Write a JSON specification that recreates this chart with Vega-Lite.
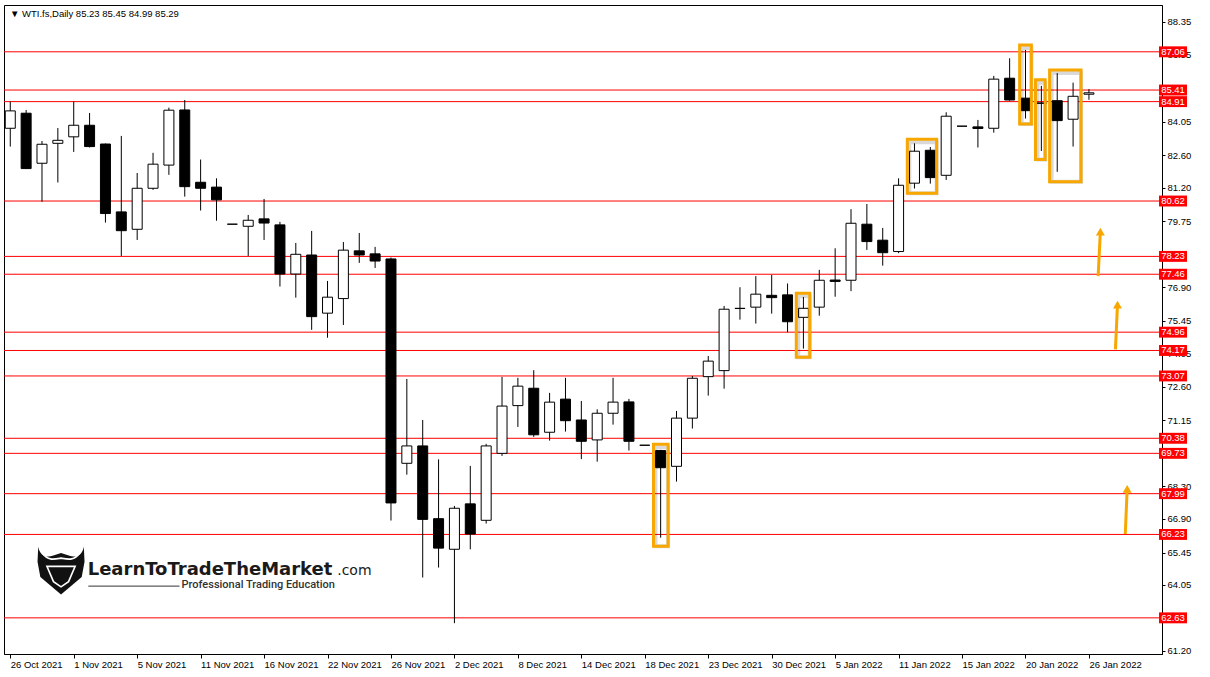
{
  "$schema": "https://vega.github.io/schema/vega-lite/v6.json",
  "width": 1158,
  "height": 649,
  "autosize": {"type": "none"},
  "padding": {"left": 4, "top": 5, "right": 48, "bottom": 23},
  "background": "white",
  "config": {"view": {"stroke": "black", "strokeWidth": 1}},
  "title": {"text": "▼ WTI.fs,Daily  85.23 85.45 84.99 85.29", "anchor": "start", "frame": "group", "offset": -13, "dx": 6, "font": "Liberation Sans", "fontSize": 9.5, "fontWeight": "normal", "color": "black"},
  "datasets": {
    "candles": [
      {"i": 0, "date": "2021-10-26", "open": 83.76, "high": 84.91, "low": 82.97, "close": 84.51},
      {"i": 1, "date": "2021-10-27", "open": 84.41, "high": 84.55, "low": 82.0, "close": 82.02},
      {"i": 2, "date": "2021-10-28", "open": 82.25, "high": 83.21, "low": 80.59, "close": 83.07},
      {"i": 3, "date": "2021-10-29", "open": 83.11, "high": 83.77, "low": 81.42, "close": 83.24},
      {"i": 4, "date": "2021-11-01", "open": 83.39, "high": 84.91, "low": 82.74, "close": 83.89},
      {"i": 5, "date": "2021-11-02", "open": 83.89, "high": 84.42, "low": 82.93, "close": 82.97},
      {"i": 6, "date": "2021-11-03", "open": 83.08, "high": 83.1, "low": 79.69, "close": 80.08},
      {"i": 7, "date": "2021-11-04", "open": 80.15, "high": 83.43, "low": 78.25, "close": 79.34},
      {"i": 8, "date": "2021-11-05", "open": 79.4, "high": 81.83, "low": 78.94, "close": 81.17},
      {"i": 9, "date": "2021-11-08", "open": 81.17, "high": 82.7, "low": 81.1, "close": 82.21},
      {"i": 10, "date": "2021-11-09", "open": 82.17, "high": 84.65, "low": 81.75, "close": 84.54},
      {"i": 11, "date": "2021-11-10", "open": 84.55, "high": 84.98, "low": 80.81, "close": 81.24},
      {"i": 12, "date": "2021-11-11", "open": 81.43, "high": 82.41, "low": 80.21, "close": 81.17},
      {"i": 13, "date": "2021-11-12", "open": 81.22, "high": 81.6, "low": 79.77, "close": 80.67},
      {"i": 14, "date": "2021-11-13", "open": 79.62, "high": 79.62, "low": 79.62, "close": 79.62},
      {"i": 15, "date": "2021-11-15", "open": 79.53, "high": 80.02, "low": 78.25, "close": 79.79},
      {"i": 16, "date": "2021-11-16", "open": 79.85, "high": 80.71, "low": 78.94, "close": 79.67},
      {"i": 17, "date": "2021-11-17", "open": 79.59, "high": 79.72, "low": 76.93, "close": 77.47},
      {"i": 18, "date": "2021-11-18", "open": 77.47, "high": 78.81, "low": 76.45, "close": 78.32},
      {"i": 19, "date": "2021-11-19", "open": 78.29, "high": 79.33, "low": 75.06, "close": 75.63},
      {"i": 20, "date": "2021-11-22", "open": 75.78, "high": 77.17, "low": 74.72, "close": 76.47},
      {"i": 21, "date": "2021-11-23", "open": 76.41, "high": 78.85, "low": 75.27, "close": 78.5},
      {"i": 22, "date": "2021-11-24", "open": 78.47, "high": 79.24, "low": 77.95, "close": 78.29},
      {"i": 23, "date": "2021-11-25", "open": 78.34, "high": 78.64, "low": 77.73, "close": 78.03},
      {"i": 24, "date": "2021-11-26", "open": 78.12, "high": 78.18, "low": 66.83, "close": 67.59},
      {"i": 25, "date": "2021-11-29", "open": 69.3, "high": 72.94, "low": 68.81, "close": 70.05},
      {"i": 26, "date": "2021-11-30", "open": 70.05, "high": 71.17, "low": 64.37, "close": 66.88},
      {"i": 27, "date": "2021-12-01", "open": 66.91, "high": 69.47, "low": 64.8, "close": 65.64},
      {"i": 28, "date": "2021-12-02", "open": 65.59, "high": 67.46, "low": 62.4, "close": 67.36},
      {"i": 29, "date": "2021-12-03", "open": 67.55, "high": 69.19, "low": 65.59, "close": 66.25},
      {"i": 30, "date": "2021-12-06", "open": 66.84, "high": 70.14, "low": 66.7, "close": 70.05},
      {"i": 31, "date": "2021-12-07", "open": 69.73, "high": 73.03, "low": 69.62, "close": 71.77},
      {"i": 32, "date": "2021-12-08", "open": 71.79, "high": 72.99, "low": 70.87, "close": 72.63},
      {"i": 33, "date": "2021-12-09", "open": 72.54, "high": 73.32, "low": 70.44, "close": 70.53},
      {"i": 34, "date": "2021-12-10", "open": 70.64, "high": 72.34, "low": 70.28, "close": 71.94},
      {"i": 35, "date": "2021-12-13", "open": 72.07, "high": 72.99, "low": 70.67, "close": 71.14},
      {"i": 36, "date": "2021-12-14", "open": 71.17, "high": 71.99, "low": 69.48, "close": 70.25},
      {"i": 37, "date": "2021-12-15", "open": 70.31, "high": 71.63, "low": 69.37, "close": 71.46},
      {"i": 38, "date": "2021-12-16", "open": 71.46, "high": 72.99, "low": 70.97, "close": 71.94},
      {"i": 39, "date": "2021-12-17", "open": 71.95, "high": 72.08, "low": 69.85, "close": 70.25},
      {"i": 40, "date": "2021-12-18", "open": 70.08, "high": 70.08, "low": 70.08, "close": 70.08},
      {"i": 41, "date": "2021-12-20", "open": 69.85, "high": 69.88, "low": 66.09, "close": 69.11},
      {"i": 42, "date": "2021-12-21", "open": 69.17, "high": 71.56, "low": 68.51, "close": 71.25},
      {"i": 43, "date": "2021-12-22", "open": 71.25, "high": 73.07, "low": 70.8, "close": 72.97},
      {"i": 44, "date": "2021-12-23", "open": 73.04, "high": 73.93, "low": 72.22, "close": 73.71},
      {"i": 45, "date": "2021-12-27", "open": 73.3, "high": 76.09, "low": 72.52, "close": 75.95},
      {"i": 46, "date": "2021-12-28", "open": 75.98, "high": 76.9, "low": 75.5, "close": 75.99},
      {"i": 47, "date": "2021-12-29", "open": 76.04, "high": 77.38, "low": 75.33, "close": 76.6},
      {"i": 48, "date": "2021-12-30", "open": 76.55, "high": 77.43, "low": 75.76, "close": 76.45},
      {"i": 49, "date": "2021-12-31", "open": 76.57, "high": 77.06, "low": 74.96, "close": 75.41},
      {"i": 50, "date": "2022-01-03", "open": 75.6, "high": 76.48, "low": 74.25, "close": 75.99},
      {"i": 51, "date": "2022-01-04", "open": 76.04, "high": 77.65, "low": 75.67, "close": 77.2},
      {"i": 52, "date": "2022-01-05", "open": 77.21, "high": 78.58, "low": 76.49, "close": 77.15},
      {"i": 53, "date": "2022-01-06", "open": 77.2, "high": 80.27, "low": 76.73, "close": 79.66},
      {"i": 54, "date": "2022-01-07", "open": 79.62, "high": 80.49, "low": 78.51, "close": 78.87},
      {"i": 55, "date": "2022-01-10", "open": 78.93, "high": 79.46, "low": 77.83, "close": 78.39},
      {"i": 56, "date": "2022-01-11", "open": 78.44, "high": 81.6, "low": 78.37, "close": 81.3},
      {"i": 57, "date": "2022-01-12", "open": 81.39, "high": 83.11, "low": 81.16, "close": 82.77},
      {"i": 58, "date": "2022-01-13", "open": 82.81, "high": 82.95, "low": 81.37, "close": 81.63},
      {"i": 59, "date": "2022-01-14", "open": 81.73, "high": 84.45, "low": 81.53, "close": 84.28},
      {"i": 60, "date": "2022-01-15", "open": 83.85, "high": 83.85, "low": 83.85, "close": 83.85},
      {"i": 61, "date": "2022-01-17", "open": 83.82, "high": 84.12, "low": 82.93, "close": 83.75},
      {"i": 62, "date": "2022-01-18", "open": 83.76, "high": 86.02, "low": 83.57, "close": 85.88},
      {"i": 63, "date": "2022-01-19", "open": 85.92, "high": 86.78, "low": 84.95, "close": 84.98},
      {"i": 64, "date": "2022-01-20", "open": 85.06, "high": 87.14, "low": 84.18, "close": 84.52},
      {"i": 65, "date": "2022-01-21", "open": 84.85, "high": 85.59, "low": 82.78, "close": 84.84},
      {"i": 66, "date": "2022-01-24", "open": 84.95, "high": 86.14, "low": 81.88, "close": 84.09},
      {"i": 67, "date": "2022-01-25", "open": 84.15, "high": 85.73, "low": 82.97, "close": 85.14},
      {"i": 68, "date": "2022-01-26", "open": 85.23, "high": 85.45, "low": 84.99, "close": 85.29}
    ],
    "levels": [
      {"p": 87.06}, {"p": 85.41}, {"p": 84.91}, {"p": 80.62}, {"p": 78.23}, {"p": 77.46}, {"p": 74.96},
      {"p": 74.17}, {"p": 73.07}, {"p": 70.38}, {"p": 69.73}, {"p": 67.99}, {"p": 66.23}, {"p": 62.63}
    ],
    "boxes": [
      {"i1": 40.55, "i2": 41.47, "p1": 70.12, "p2": 65.72},
      {"i1": 49.55, "i2": 50.4, "p1": 76.64, "p2": 73.88},
      {"i1": 56.55, "i2": 58.4, "p1": 83.29, "p2": 80.96},
      {"i1": 63.63, "i2": 64.37, "p1": 87.35, "p2": 83.94},
      {"i1": 64.63, "i2": 65.24, "p1": 85.85, "p2": 82.41},
      {"i1": 65.52, "i2": 67.5, "p1": 86.28, "p2": 81.45}
    ],
    "arrows": [
      {"i1": 68.58, "p1": 77.38, "i2": 68.72, "p2": 79.3},
      {"i1": 69.67, "p1": 74.22, "i2": 69.8, "p2": 76.15},
      {"i1": 70.29, "p1": 66.25, "i2": 70.41, "p2": 68.2}
    ]
  },
  "layer": [
    {
      "data": {"name": "levels"},
      "mark": {"type": "rule", "color": "#FF0000", "strokeWidth": 1},
      "encoding": {
        "y": {"field": "p", "type": "quantitative", "title": null,
              "scale": {"domain": [61.07, 89.08], "nice": false, "zero": false},
              "axis": {"orient": "right", "title": null, "grid": false,
                       "values": [88.35, 86.95, 84.05, 82.6, 81.2, 79.75, 76.9, 75.45, 74.05, 72.6, 71.15, 68.3, 66.9, 65.45, 64.05, 61.2],
                       "format": ".2f", "tickSize": 3, "tickColor": "black", "domainColor": "black",
                       "labelFont": "Liberation Sans", "labelFontSize": 9.5, "labelColor": "black",
                       "labelPadding": 2, "labelBaseline": "middle", "labelOverlap": false, "labelFlush": false, "labelBound": false}}
      }
    },
    {
      "data": {"name": "candles"},
      "mark": {"type": "rule", "color": "black", "strokeWidth": 1, "clip": true},
      "encoding": {
        "x": {"field": "i", "type": "quantitative", "title": null,
              "scale": {"domain": [-0.08, 72.29], "nice": false, "zero": false},
              "axis": {"orient": "bottom", "title": null, "grid": false,
                       "values": [0, 4, 8, 12, 16, 20, 24, 28, 32, 36, 40, 44, 48, 52, 56, 60, 64, 68],
                       "labelExpr": "['26 Oct 2021','1 Nov 2021','5 Nov 2021','11 Nov 2021','16 Nov 2021','22 Nov 2021','26 Nov 2021','2 Dec 2021','8 Dec 2021','14 Dec 2021','18 Dec 2021','23 Dec 2021','30 Dec 2021','5 Jan 2022','11 Jan 2022','15 Jan 2022','20 Jan 2022','26 Jan 2022'][round(datum.value/4)]",
                       "tickSize": 4, "tickColor": "black", "domainColor": "black",
                       "labelAlign": "left", "labelBaseline": "top", "labelPadding": 1, "labelDx": 1,
                       "labelFont": "Liberation Sans", "labelFontSize": 9.5, "labelColor": "black",
                       "labelOverlap": false, "labelFlush": false, "labelBound": false}},
        "y": {"field": "low", "type": "quantitative", "title": null},
        "y2": {"field": "high"}
      }
    },
    {
      "data": {"name": "candles"},
      "mark": {"type": "bar", "size": 10, "stroke": "black", "strokeWidth": 1, "clip": true},
      "encoding": {
        "x": {"field": "i", "type": "quantitative", "title": null},
        "y": {"field": "open", "type": "quantitative", "title": null},
        "y2": {"field": "close"},
        "fill": {"condition": {"test": "datum.close < datum.open", "value": "#000000"}, "value": "#ffffff"}
      }
    },
    {
      "data": {"name": "boxes"},
      "mark": {"type": "rect", "fill": "transparent", "stroke": "#000000", "strokeOpacity": 0.15, "strokeWidth": 4, "xOffset": 2, "yOffset": 3},
      "encoding": {
        "x": {"field": "i1", "type": "quantitative", "title": null},
        "x2": {"field": "i2"},
        "y": {"field": "p1", "type": "quantitative", "title": null},
        "y2": {"field": "p2"}
      }
    },
    {
      "data": {"name": "boxes"},
      "mark": {"type": "rect", "fill": "transparent", "stroke": "#F7A700", "strokeWidth": 3},
      "encoding": {
        "x": {"field": "i1", "type": "quantitative", "title": null},
        "x2": {"field": "i2"},
        "y": {"field": "p1", "type": "quantitative", "title": null},
        "y2": {"field": "p2"}
      }
    },
    {
      "data": {"name": "arrows"},
      "mark": {"type": "rule", "color": "#F7A700", "strokeWidth": 3},
      "encoding": {
        "x": {"field": "i1", "type": "quantitative", "title": null},
        "x2": {"field": "i2"},
        "y": {"field": "p1", "type": "quantitative", "title": null},
        "y2": {"field": "p2"}
      }
    },
    {
      "data": {"name": "arrows"},
      "mark": {"type": "point", "shape": "triangle-up", "filled": true, "color": "#F7A700", "opacity": 1, "size": 80, "strokeWidth": 0},
      "encoding": {
        "x": {"field": "i2", "type": "quantitative", "title": null},
        "y": {"field": "p2", "type": "quantitative", "title": null}
      }
    },
    {
      "data": {"name": "levels"},
      "mark": {"type": "point", "shape": "M-1,-0.39L1,-0.39L1,0.39L-1,0.39Z", "size": 784, "filled": true, "color": "#FF0000", "opacity": 1, "strokeWidth": 0},
      "encoding": {
        "x": {"datum": 73.3, "type": "quantitative"},
        "y": {"field": "p", "type": "quantitative", "title": null}
      }
    },
    {
      "data": {"name": "levels"},
      "mark": {"type": "text", "color": "white", "font": "Liberation Sans", "fontSize": 9.5, "align": "center", "baseline": "middle"},
      "encoding": {
        "x": {"datum": 73.3, "type": "quantitative"},
        "y": {"field": "p", "type": "quantitative", "title": null},
        "text": {"field": "p", "type": "quantitative", "format": ".2f"}
      }
    },
    {
      "data": {"values": [{"name": "bull"}]},
      "mark": {"type": "point", "shape": "M-0.97,-1C-0.92,-0.62,-0.62,-0.5,-0.36,-0.6L0,-0.72L0.36,-0.6C0.62,-0.5,0.92,-0.62,0.97,-1L1,-0.35L0.88,0.3L0,1.05L-0.88,0.3L-1,-0.35Z", "size": 2209, "filled": true, "color": "#111111", "opacity": 1, "strokeWidth": 0},
      "encoding": {
        "x": {"datum": 3.2, "type": "quantitative"},
        "y": {"datum": 64.7, "type": "quantitative"}
      }
    },
    {
      "data": {"values": [{"name": "bull"}]},
      "mark": {"type": "point", "shape": "M-0.8,-0.72C-0.55,-0.38,-0.3,-0.45,0,-0.5C0.3,-0.45,0.55,-0.38,0.8,-0.72M-0.6,-0.15L0.6,-0.15L0.32,0.5L0,0.72L-0.32,0.5Z", "size": 2209, "filled": false, "stroke": "white", "opacity": 1, "strokeWidth": 1.6},
      "encoding": {
        "x": {"datum": 3.2, "type": "quantitative"},
        "y": {"datum": 64.7, "type": "quantitative"}
      }
    },
    {
      "data": {"values": [{"t": "LearnToTradeTheMarket"}]},
      "mark": {"type": "text", "font": "DejaVu Sans", "fontWeight": "bold", "fontSize": 18, "color": "#1a1a1a", "align": "left", "baseline": "alphabetic"},
      "encoding": {
        "x": {"datum": 4.88, "type": "quantitative"},
        "y": {"datum": 64.48, "type": "quantitative"},
        "text": {"field": "t"}
      }
    },
    {
      "data": {"values": [{"t": ".com"}]},
      "mark": {"type": "text", "font": "DejaVu Sans", "fontSize": 14, "color": "#1a1a1a", "align": "left", "baseline": "alphabetic"},
      "encoding": {
        "x": {"datum": 20.61, "type": "quantitative"},
        "y": {"datum": 64.48, "type": "quantitative"},
        "text": {"field": "t"}
      }
    },
    {
      "data": {"values": [{"t": "underline"}]},
      "mark": {"type": "rule", "color": "#333333", "strokeWidth": 1},
      "encoding": {
        "x": {"datum": 4.92, "type": "quantitative"},
        "x2": {"datum": 10.67},
        "y": {"datum": 64.0, "type": "quantitative"}
      }
    },
    {
      "data": {"values": [{"t": "Professional Trading Education"}]},
      "mark": {"type": "text", "font": "Roboto", "fontWeight": 500, "fontSize": 11, "color": "#333333", "align": "left", "baseline": "alphabetic"},
      "encoding": {
        "x": {"datum": 10.8, "type": "quantitative"},
        "y": {"datum": 63.92, "type": "quantitative"},
        "text": {"field": "t"}
      }
    }
  ]
}
